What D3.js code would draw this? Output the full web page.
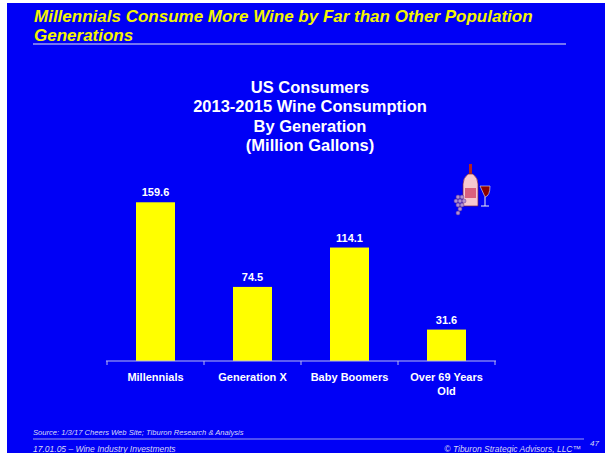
<!DOCTYPE html>
<html>
<head>
<meta charset="utf-8">
<script src="https://cdn.jsdelivr.net/npm/d3@7"></script>
<style>
  html, body { margin: 0; padding: 0; background: #fff; }
  svg { display: block; font-family: "Liberation Sans", Arial, sans-serif; }
</style>
</head>
<body>
<svg id="chart" width="610" height="462"></svg>
<script>
// chart data
const categories = ["Millennials", "Generation X", "Baby Boomers", "Over 69 Years Old"];
const categoryLines = [["Millennials"], ["Generation X"], ["Baby Boomers"], ["Over 69 Years", "Old"]];
const gallons = [159.6, 74.5, 114.1, 31.6];
const chartTitle = ["US Consumers", "2013-2015 Wine Consumption", "By Generation", "(Million Gallons)"];

const svg = d3.select("#chart");

// slide background
svg.append("rect").attr("x", 7).attr("y", 3).attr("width", 598).attr("height", 450).attr("fill", "#0000f6");

// slide heading
const head = svg.append("text").attr("fill", "#f4f400").attr("font-size", "17px")
  .attr("font-weight", "bold").attr("font-style", "italic");
head.append("tspan").attr("x", 34).attr("y", 22).text("Millennials Consume More Wine by Far than Other Population");
head.append("tspan").attr("x", 34).attr("y", 41).text("Generations");
svg.append("line").attr("x1", 33).attr("x2", 566).attr("y1", 44).attr("y2", 44)
  .attr("stroke", "#9c9cf0").attr("stroke-width", 1.5);

// chart title
svg.append("g").selectAll("text").data(chartTitle).join("text")
  .attr("x", 310).attr("y", (d, i) => 93 + i * 19.3)
  .attr("text-anchor", "middle").attr("fill", "#fff")
  .attr("font-size", "16.5px").attr("font-weight", "bold")
  .text(d => d);

// scales
const x = d3.scaleBand().domain(categories).range([107, 495]).paddingInner(0).paddingOuter(0);
const y = d3.scaleLinear().domain([0, 180]).range([361, 182]);
const barW = 39;

const g = svg.append("g");

g.selectAll(".bar").data(gallons).join("rect")
  .attr("class", "bar")
  .attr("x", (d, i) => x(categories[i]) + x.bandwidth() / 2 - barW / 2)
  .attr("width", barW)
  .attr("y", d => y(d))
  .attr("height", d => y(0) - y(d))
  .attr("fill", "#ffff00");

g.selectAll(".val").data(gallons).join("text")
  .attr("class", "val")
  .attr("x", (d, i) => x(categories[i]) + x.bandwidth() / 2)
  .attr("y", d => y(d) - 6)
  .attr("text-anchor", "middle").attr("fill", "#fff")
  .attr("font-size", "11px").attr("font-weight", "bold")
  .text(d => d.toFixed(1));

// category axis
const xAxis = g.append("g").attr("transform", `translate(0,${y(0)})`)
  .call(d3.axisBottom(x).tickSize(0).tickFormat(""));
xAxis.select(".domain").attr("stroke", "#b8b8f0").attr("d", "M106,0H496");
xAxis.selectAll(".tick").remove();
xAxis.selectAll(".sep").data(d3.range(categories.length + 1)).join("line")
  .attr("class", "sep")
  .attr("x1", i => 107 + i * x.bandwidth()).attr("x2", i => 107 + i * x.bandwidth())
  .attr("y1", 0).attr("y2", 4)
  .attr("stroke", "#b8b8f0");

const labels = g.selectAll(".cat").data(categories).join("text")
  .attr("class", "cat")
  .attr("text-anchor", "middle").attr("fill", "#fff")
  .attr("font-size", "11px").attr("font-weight", "bold");
labels.each(function(d, i) {
  d3.select(this).selectAll("tspan").data(categoryLines[i]).join("tspan")
    .attr("x", x(d) + x.bandwidth() / 2)
    .attr("y", (t, j) => 381 + j * 14)
    .text(t => t);
});

// wine clip-art
const icon = svg.append("g");
icon.append("rect").attr("x", 469).attr("y", 164).attr("width", 3).attr("height", 10).attr("fill", "#b22222");
icon.append("path").attr("d", "M468,174 L473,174 Q478,178 478,184 L478,206 L463,206 L463,184 Q463,178 468,174 Z")
  .attr("fill", "#f6c8d0").attr("stroke", "#7a2040").attr("stroke-width", 0.7);
icon.append("rect").attr("x", 465).attr("y", 188).attr("width", 11).attr("height", 10).attr("fill", "#d9607e");
icon.append("path").attr("d", "M480,186 L490,186 Q490,196 485,197 Z").attr("fill", "#8b0000").attr("stroke", "#eee").attr("stroke-width", 0.6);
icon.append("line").attr("x1", 485).attr("x2", 485).attr("y1", 197).attr("y2", 206).attr("stroke", "#eee");
icon.append("line").attr("x1", 481).attr("x2", 489).attr("y1", 206).attr("y2", 206).attr("stroke", "#eee");
const grapes = [[458, 197], [462, 197], [456, 201], [460, 201], [464, 201], [458, 205], [462, 205], [460, 209], [458, 213]];
icon.selectAll(".grape").data(grapes).join("circle").attr("class", "grape")
  .attr("cx", d => d[0]).attr("cy", d => d[1]).attr("r", 2).attr("fill", "#b090d0").attr("stroke", "#6a3a90").attr("stroke-width", 0.5);

// footer
const foot = svg.append("g").attr("fill", "#d8d8f4").attr("font-style", "italic").attr("font-size", "8px");
foot.append("text").attr("x", 33).attr("y", 435).attr("font-size", "7.6px").text("Source:  1/3/17 Cheers Web Site; Tiburon Research & Analysis");
foot.append("text").attr("x", 33).attr("y", 452).attr("font-size", "8.5px").text("17.01.05 \u2013 Wine Industry Investments");
foot.append("text").attr("x", 581).attr("y", 452).attr("font-size", "8.5px").attr("text-anchor", "end").text("\u00a9 Tiburon Strategic Advisors, LLC\u2122");
foot.append("text").attr("x", 590).attr("y", 446).text("47");
svg.append("line").attr("x1", 33).attr("x2", 584).attr("y1", 439).attr("y2", 439)
  .attr("stroke", "#9c9cf0").attr("stroke-width", 1.2);
</script>
</body>
</html>
